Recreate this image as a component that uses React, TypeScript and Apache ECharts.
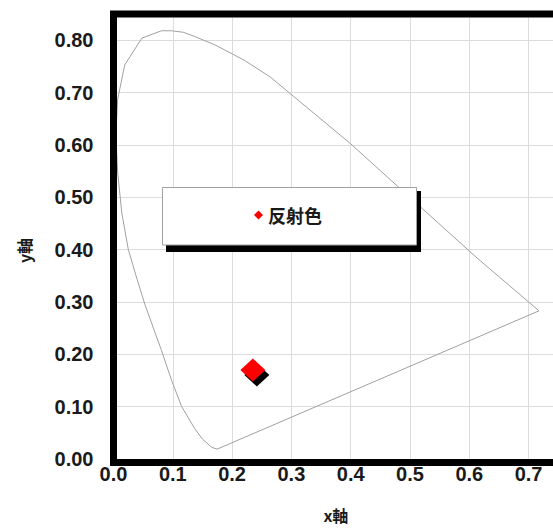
import React, { useEffect, useRef } from "react";
import * as echarts from "echarts";

// Spectral locus outline
const locusX = [0.175, 0.166, 0.150, 0.137, 0.115, 0.098, 0.081, 0.053, 0.038, 0.025, 0.014, 0.007, 0.004, 0.007, 0.019, 0.048, 0.081, 0.098, 0.118, 0.137, 0.171, 0.220, 0.264, 0.399, 0.478, 0.613, 0.7175, 0.175];
const locusY = [0.019, 0.022, 0.038, 0.058, 0.100, 0.150, 0.207, 0.295, 0.350, 0.400, 0.470, 0.548, 0.620, 0.687, 0.753, 0.804, 0.818, 0.818, 0.815, 0.807, 0.791, 0.762, 0.730, 0.603, 0.522, 0.384, 0.283, 0.019];

// Measured colour point
const seriesName = "反射色";
const pointX = [0.235];
const pointY = [0.170];

const xAxisName = "x軸";
const yAxisName = "y軸";

const G_LEFT = 113.5;
const G_TOP = 14;
const G_W = 444.75;
const G_H = 448.5;

export default function App() {
  const ref = useRef<HTMLDivElement>(null);
  useEffect(() => {
    if (!ref.current) return;
    const chart = echarts.init(ref.current, null, { renderer: "svg" });
    const locus = locusX.map((x, i) => [x, locusY[i]]);
    const pts = pointX.map((x, i) => [x, pointY[i]]);
    const labelFont = {
      fontFamily: "Liberation Sans, Arial, sans-serif",
      fontWeight: "bold" as const,
      fontSize: 20,
      color: "#1a1a1a",
    };
    chart.setOption({
      animation: false,
      backgroundColor: "#ffffff",
      grid: { left: G_LEFT, top: G_TOP, width: G_W, height: G_H, show: false },
      xAxis: {
        type: "value",
        min: 0,
        max: 0.75,
        interval: 0.1,
        name: xAxisName,
        nameLocation: "middle",
        nameGap: 48,
        nameTextStyle: {
          fontFamily: "Noto Sans CJK JP, sans-serif",
          fontWeight: "bold",
          fontSize: 16,
          color: "#1a1a1a",
        },
        axisLine: { show: false },
        axisTick: { show: false },
        axisLabel: {
          ...labelFont,
          margin: 5,
          showMaxLabel: false,
          formatter: (v: number) => v.toFixed(1),
        },
        splitLine: { show: true, lineStyle: { color: "#dcdcdc", width: 1 } },
      },
      yAxis: {
        type: "value",
        min: 0,
        max: 0.85,
        interval: 0.1,
        name: yAxisName,
        nameLocation: "middle",
        nameRotate: 90,
        nameGap: 82,
        nameTextStyle: {
          fontFamily: "Noto Sans CJK JP, sans-serif",
          fontWeight: "bold",
          fontSize: 16,
          color: "#1a1a1a",
          padding: [0, 28, 0, 0],
        },
        axisLine: { show: false },
        axisTick: { show: false },
        axisLabel: {
          ...labelFont,
          margin: 20,
          showMaxLabel: false,
          formatter: (v: number) => v.toFixed(2),
        },
        splitLine: { show: true, lineStyle: { color: "#dcdcdc", width: 1 } },
      },
      legend: {
        data: [{ name: seriesName, icon: "diamond" }],
        left: 254,
        top: 206,
        padding: 0,
        itemWidth: 9,
        itemHeight: 9,
        z: 20,
        textStyle: {
          fontFamily: "Noto Sans CJK JP, sans-serif",
          fontWeight: "bold",
          fontSize: 18,
          color: "#1a1a1a",
        },
      },
      graphic: [
        {
          type: "rect",
          z: 10,
          shape: { x: 166, y: 191, width: 255, height: 61 },
          style: { fill: "#000000" },
        },
        {
          type: "rect",
          z: 11,
          shape: { x: 162.5, y: 187.5, width: 254, height: 57.5 },
          style: { fill: "#ffffff", stroke: "#a0a0a0", lineWidth: 1 },
        },
        {
          type: "rect",
          z: 30,
          shape: { x: G_LEFT, y: G_TOP, width: G_W, height: G_H },
          style: { fill: "none", stroke: "#000000", lineWidth: 7 },
        },
      ],
      series: [
        {
          type: "line",
          name: "locus",
          data: locus,
          showSymbol: false,
          symbol: "none",
          lineStyle: { color: "#a0a0a0", width: 1 },
          silent: true,
          z: 2,
        },
        {
          type: "scatter",
          name: "shadow",
          data: pts,
          symbol: "diamond",
          symbolSize: [25, 23],
          symbolOffset: [4, 5],
          itemStyle: { color: "#000000", opacity: 1 },
          silent: true,
          z: 3,
        },
        {
          type: "scatter",
          name: seriesName,
          data: pts,
          symbol: "diamond",
          symbolSize: [25, 23],
          itemStyle: { color: "#ff0000", opacity: 1 },
          silent: true,
          z: 4,
        },
      ],
    });
    return () => chart.dispose();
  }, []);
  return (
    <div
      ref={ref}
      style={{ position: "fixed", left: 0, top: 0, width: 620, height: 528 }}
    />
  );
}
